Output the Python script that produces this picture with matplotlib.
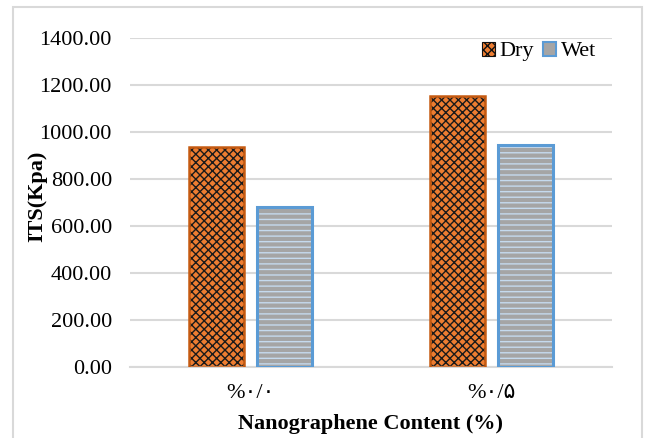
import numpy as np
import matplotlib.pyplot as plt
from matplotlib.patches import Rectangle, Patch

# ITS results for dry and wet specimens
categories = ['%۰/۰', '%۰/۵']
dry = [935, 1153]
wet = [680, 945]
yticks = [0, 200, 400, 600, 800, 1000, 1200, 1400]

plt.rcParams['font.family'] = ['Liberation Serif', 'DejaVu Sans']
plt.rcParams['hatch.linewidth'] = 1.0

fig = plt.figure(figsize=(6.48, 4.38), dpi=100)
ax = fig.add_axes([0.2006, 0.162, 0.7434, 0.751])

x = np.arange(len(categories))
w = 0.228
off = 0.142

# fill + hatch first, outline drawn on top
ax.bar(x - off, dry, w, color='#ED7D31', hatch='xxxx', edgecolor='#1a1a1a', linewidth=0, zorder=2)
ax.bar(x - off, dry, w, fill=False, edgecolor='#C55A11', linewidth=1.8, zorder=3)
ax.bar(x + off, wet, w, color='#A5A5A5', hatch='---', edgecolor='#C5DAEE', linewidth=0, zorder=2)
ax.bar(x + off, wet, w, fill=False, edgecolor='#5B9BD5', linewidth=2.2, zorder=3)

ax.set_xlim(-0.5, 1.5)
ax.set_ylim(0, 1400)
ax.set_yticks(yticks)
ax.set_yticklabels([f'{v:.2f}' for v in yticks], fontsize=16)
ax.set_xticks(x)
ax.set_xticklabels(categories, fontsize=16)
ax.tick_params(length=0)
ax.tick_params(axis='x', pad=12)
ax.tick_params(axis='y', pad=13)

ax.grid(axis='y', color='#D9D9D9', linewidth=1.5, zorder=0)
for s in ['top', 'right', 'left']:
    ax.spines[s].set_visible(False)
ax.spines['bottom'].set_color('#D9D9D9')
ax.spines['bottom'].set_linewidth(1.5)

ax.set_ylabel('ITS(Kpa)', fontsize=16, fontweight='bold')
ax.yaxis.set_label_coords(-0.172, 0.52)
ax.set_xlabel('Nanographene Content (%)', fontsize=16, fontweight='bold', labelpad=8)

handles = [Patch(facecolor='#ED7D31', hatch='xxxx', edgecolor='#111111', linewidth=0.8),
           Patch(facecolor='#A5A5A5', edgecolor='#5B9BD5', linewidth=1.5)]
ax.legend(handles, ['Dry', 'Wet'], loc='upper right', bbox_to_anchor=(0.995, 1.03),
          ncol=2, frameon=False, fontsize=16, handlelength=0.6, handleheight=0.6,
          handletextpad=0.2, columnspacing=0.4, borderaxespad=0.2)

# light frame around the chart area
fig.patches.append(Rectangle((13 / 648, -0.02), 629 / 648, 1.02 - 7 / 438,
                             transform=fig.transFigure, fill=False,
                             edgecolor='#D9D9D9', linewidth=1.5))

fig.savefig('out.png', dpi=100)
